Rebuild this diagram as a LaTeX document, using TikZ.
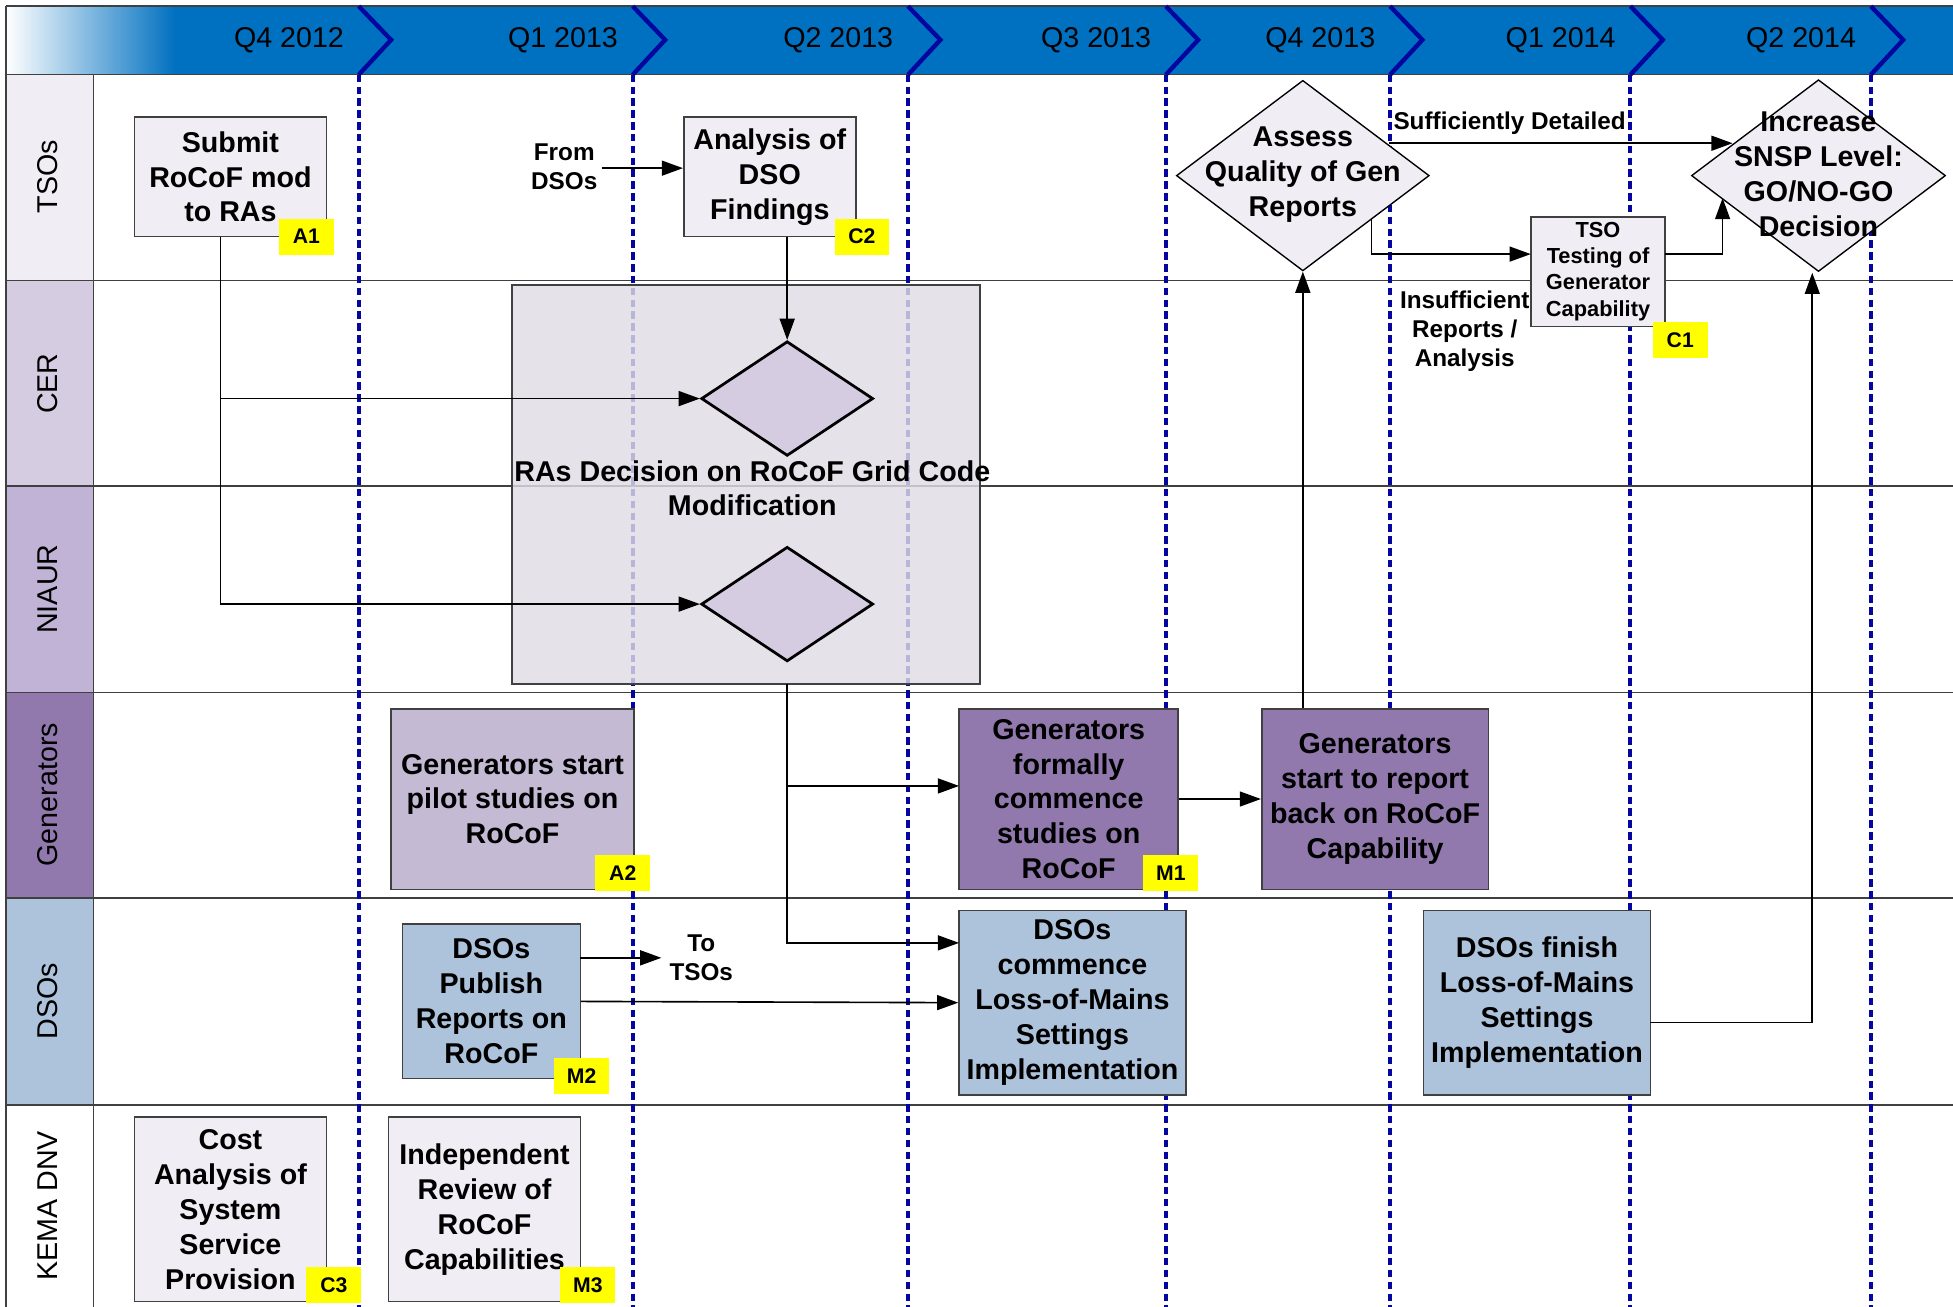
\documentclass[tikz,border=0pt]{standalone}
\usepackage{fontspec}
\setmainfont{Liberation Sans}
\usetikzlibrary{shapes.geometric,arrows.meta}
\definecolor{hdr}{HTML}{0070C0}
\definecolor{chev}{HTML}{0505A0}
\definecolor{boxline}{HTML}{404040}
\definecolor{lightbox}{HTML}{F0EEF4}
\definecolor{rabox}{HTML}{E0DDE5}
\definecolor{cerfill}{HTML}{D5CCE1}
\definecolor{niaurfill}{HTML}{C0B3D5}
\definecolor{pilotfill}{HTML}{C4BAD4}
\definecolor{genfill}{HTML}{9179AD}
\definecolor{dsofill}{HTML}{ADC2DB}
\definecolor{tagyellow}{HTML}{FFFF00}
\tikzset{
  box/.style={draw=boxline, line width=1.3pt, align=center, inner sep=0pt,
    font=\fontsize{23}{28}\selectfont\bfseries},
  tag/.style={fill=tagyellow, minimum width=44pt, minimum height=29pt, inner sep=0pt,
    font=\fontsize{17}{20}\selectfont\bfseries},
  dia/.style={diamond, draw=black, line width=1.1pt, inner sep=0pt},
  dtext/.style={align=center, inner sep=0pt, font=\fontsize{23}{28}\selectfont\bfseries},
  lbl/.style={align=center, inner sep=1pt, font=\fontsize{19.5}{23}\selectfont\bfseries},
  lane/.style={rotate=90, inner sep=0pt, font=\fontsize{23}{28}\selectfont},
  qtr/.style={inner sep=0pt, font=\fontsize{23}{28}\selectfont},
  conn/.style={draw=black, line width=1.3pt},
  arr/.style={conn, -{Triangle[length=17pt,width=12pt]}},
  qline/.style={draw=chev, line width=3.2pt, dash pattern=on 6pt off 3.5pt},
  chevron/.style={draw=chev, line width=3.5pt},
  laneline/.style={draw=boxline, line width=1.2pt}
}
\begin{document}
\begin{tikzpicture}[x=1pt,y=-1pt]
\useasboundingbox (0,0) rectangle (1568,1049);
\fill[white] (0,0) rectangle (1568,1049);
% header
\fill[hdr] (140,5) rectangle (1568,60);
\shade[left color=white, right color=hdr] (5,5) rectangle (141,60);
\draw[laneline] (5,5) -- (1568,5);
% lane label column
\fill[lightbox] (5,60) rectangle (75,225);
\fill[cerfill] (5,225) rectangle (75,390);
\fill[niaurfill] (5,390) rectangle (75,556);
\fill[genfill] (5,556) rectangle (75,721);
\fill[dsofill] (5,721) rectangle (75,887);
\fill[white] (5,887) rectangle (75,1049);
\foreach \yy in {60,225,390,556,721,887} {\draw[laneline] (5,\yy) -- (1568,\yy);}
\draw[laneline] (5,5) -- (5,1049);
\draw[laneline] (75,60) -- (75,1049);
\node[lane] (ltso) at (38,142) {TSOs};
\node[lane] (lcer) at (38,308) {CER};
\node[lane] (lniaur) at (38,473) {NIAUR};
\node[lane] (lgen) at (38,638) {Generators};
\node[lane] (ldso) at (38,804) {DSOs};
\node[lane] (lkema) at (38,968) {KEMA DNV};
% quarters
\foreach \xx/\q in {288/Q4 2012,508/Q1 2013,729/Q2 2013,936/Q3 2013,1116/Q4 2013,1309/Q1 2014,1502/Q2 2014} {
  \draw[chevron] (\xx,5) -- (\xx+26,32) -- (\xx,60);
  \draw[qline] (\xx,60) -- (\xx,1049);
  \node[qtr] at (\xx-56,32) {\q};
}
% RA decision box
\node[draw=boxline, line width=1.3pt, fill=rabox, fill opacity=0.82, minimum width=376pt, minimum height=320pt, inner sep=0pt] (rabig) at (599,389) {};
\node[dia, line width=2.2pt, fill=cerfill, minimum width=138pt, minimum height=92pt] (cerd) at (632,320) {};
\node[dia, line width=2.2pt, fill=cerfill, minimum width=138pt, minimum height=92pt] (niaurd) at (632,485) {};
\node[dtext] (ratext) at (604,392) {RAs Decision on RoCoF Grid Code\\Modification};
% TSO lane
\node[box, fill=lightbox, minimum width=154pt, minimum height=96pt] (submit) at (185,142) {Submit\\RoCoF mod\\to RAs};
\node[tag] (a1) at (246,190) {A1};
\node[lbl] (fromdso) at (453,134) {From\\DSOs};
\node[box, fill=lightbox, minimum width=138pt, minimum height=96pt] (analysis) at (618,142) {Analysis of\\DSO\\Findings};
\node[tag] (c2) at (692,190) {C2};
\node[dia, fill=lightbox, minimum width=203pt, minimum height=153pt] (assess) at (1046,141) {};
\node[dtext] (assesst) at (1046,140) {Assess\\Quality of Gen\\Reports};
\node[dia, fill=lightbox, minimum width=204pt, minimum height=154pt] (incr) at (1460,141) {};
\node[dtext] (incrt) at (1460,140) {Increase\\SNSP Level:\\GO/NO-GO\\Decision};
\node[box, fill=lightbox, minimum width=108pt, minimum height=88pt, font=\fontsize{17.5}{21}\selectfont\bfseries] (tsotest) at (1283,218) {TSO\\Testing of\\Generator\\Capability};
\node[tag] (c1) at (1349,273) {C1};
\node[lbl] (suff) at (1212,99) {Sufficiently Detailed};
\node[lbl] (insuff) at (1176,266) {Insufficient\\Reports /\\Analysis};
% Generators lane
\node[box, fill=pilotfill, minimum width=195pt, minimum height=145pt] (pilot) at (411.5,641.5) {Generators start\\pilot studies on\\RoCoF};
\node[tag] (a2) at (500,701) {A2};
\node[box, fill=genfill, minimum width=176pt, minimum height=145pt] (genf) at (858,641.5) {Generators\\formally\\commence\\studies on\\RoCoF};
\node[tag] (m1) at (940,701) {M1};
\node[box, fill=genfill, minimum width=182pt, minimum height=145pt] (genr) at (1104,641.5) {Generators\\start to report\\back on RoCoF\\Capability};
% DSO lane
\node[box, fill=dsofill, minimum width=143pt, minimum height=124pt] (publish) at (394.5,804) {DSOs\\Publish\\Reports on\\RoCoF};
\node[tag] (m2) at (467,864) {M2};
\node[lbl] (totso) at (563,769) {To\\TSOs};
\node[box, fill=dsofill, minimum width=182pt, minimum height=148pt] (commence) at (861,805) {DSOs\\commence\\Loss-of-Mains\\Settings\\Implementation};
\node[box, fill=dsofill, minimum width=182pt, minimum height=148pt] (finish) at (1234,805) {DSOs finish\\Loss-of-Mains\\Settings\\Implementation};
% KEMA lane
\node[box, fill=lightbox, minimum width=154pt, minimum height=148pt] (cost) at (185,971) {Cost\\Analysis of\\System\\Service\\Provision};
\node[tag] (c3) at (268,1032) {C3};
\node[box, fill=lightbox, minimum width=154pt, minimum height=148pt] (review) at (389,971) {Independent\\Review of\\RoCoF\\Capabilities};
\node[tag] (m3) at (472,1032) {M3};
% connector coordinates
\coordinate (subout) at (177,190);
\coordinate (anout) at (632,190);
\coordinate (raout) at (632,549);
\coordinate (genin) at (770,631);
\coordinate (comin) at (770,757);
\coordinate (asright) at (1115,115);
\coordinate (incleft) at (1391,115);
\coordinate (aslow) at (1101,175);
\coordinate (tsoin) at (1229,204);
\coordinate (tsoout) at (1337,204);
\coordinate (incll) at (1383,159);
\coordinate (finout) at (1325,821);
\coordinate (incbot) at (1455,219);
\coordinate (fromout) at (483,135);
\coordinate (pubup) at (466,769);
\coordinate (totsoin) at (531,769);
% connectors
\draw[arr] (fromout) -- (fromout -| analysis.west);
\draw[arr] (anout) -- (cerd.north);
\draw[arr] (subout) |- (cerd.west);
\draw[arr] (subout) |- (niaurd.west);
\draw[arr] (raout) |- (comin);
\draw[arr] (raout |- genin) -- (genin);
\draw[arr] (genf.east) -- (genr.west);
\draw[arr] (genr.north -| assess.south) -- (assess.south);
\draw[arr] (asright) -- (incleft);
\draw[arr] (aslow) |- (tsoin);
\draw[arr] (tsoout) -| (incll);
\draw[arr] (finout) -| (incbot);
\draw[arr] (pubup) -- (totsoin);
\draw[arr] (publish.east) -- (commence.west);
\end{tikzpicture}
\end{document}
